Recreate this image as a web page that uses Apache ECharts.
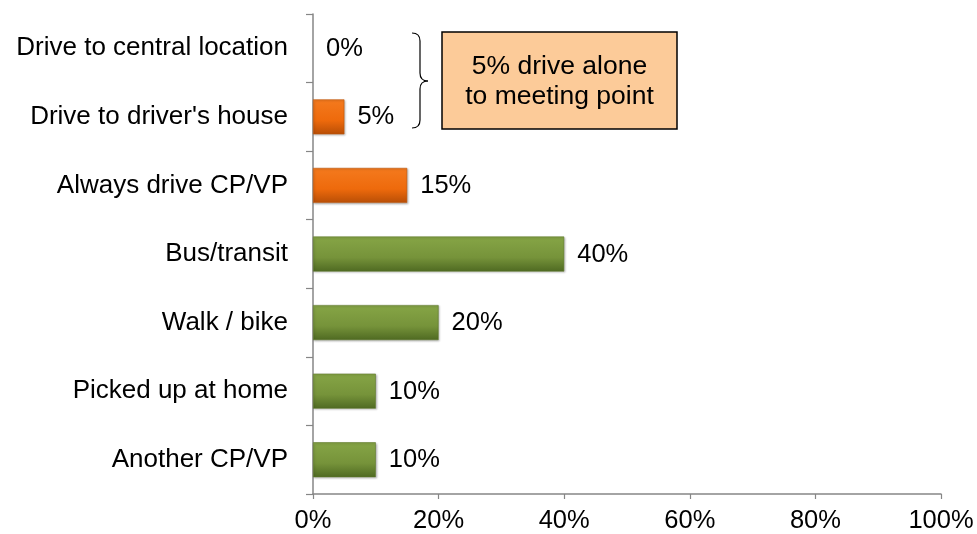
<!DOCTYPE html>
<html>
<head>
<meta charset="utf-8">
<script src="https://cdn.jsdelivr.net/npm/echarts@6/dist/echarts.min.js"></script>
<style>
  html, body { margin: 0; padding: 0; background: #fff; }
  #chart { width: 977px; height: 534px; }
</style>
</head>
<body>
<div id="chart"></div>
<script>
// categories listed bottom to top (category axis on y starts at bottom)
const categories = ['Another CP/VP', 'Picked up at home', 'Walk / bike', 'Bus/transit',
  'Always drive CP/VP', "Drive to driver's house", 'Drive to central location']
const shares = [10, 10, 20, 40, 15, 5, 0]
const isDrive = [false, false, false, false, true, true, true]
const xTicks = [0, 20, 40, 60, 80, 100]
const noteLines = ['5% drive alone', 'to meeting point']

const font = 'Liberation Sans, Arial, sans-serif'

// vertical gradient helper
function vGrad (top, mid, bottom) {
  return {
    type: 'linear', x: 0, y: 0, x2: 0, y2: 1,
    colorStops: [
      { offset: 0, color: top },
      { offset: 0.6, color: mid },
      { offset: 1, color: bottom }
    ]
  }
}
const orange = vGrad('#f47a1e', '#ee6a0c', '#b84e06')
const green = vGrad('#86a546', '#76933a', '#4f6a22')

// curly brace pieces (annotation, not data)
const braceStyle = { fill: 'none', stroke: '#000', lineWidth: 1.2 }
function curve (x1, y1, cx, cy, x2, y2) {
  return { type: 'bezierCurve', shape: { x1, y1, cpx1: cx, cpy1: cy, x2, y2 }, style: braceStyle }
}
function seg (x1, y1, x2, y2) {
  return { type: 'line', shape: { x1, y1, x2, y2 }, style: braceStyle }
}

const chart = echarts.init(document.getElementById('chart'), null, { renderer: 'canvas' })

const option = {
  animation: false,
  backgroundColor: '#fff',
  grid: { left: 313, right: 36, top: 14, bottom: 39, containLabel: false },
  xAxis: {
    type: 'value',
    min: xTicks[0],
    max: xTicks[xTicks.length - 1],
    interval: 20,
    axisLine: { show: true, lineStyle: { color: '#868686', width: 1.5 } },
    axisTick: { show: true, length: 5, lineStyle: { color: '#868686', width: 1.2 } },
    splitLine: { show: false },
    axisLabel: {
      formatter: v => v + '%',
      color: '#000',
      fontFamily: font,
      fontSize: 25.5,
      margin: 14
    }
  },
  yAxis: {
    type: 'category',
    data: categories,
    axisLine: { show: true, lineStyle: { color: '#868686', width: 1.5 } },
    axisTick: { show: true, length: 7, alignWithLabel: false, lineStyle: { color: '#868686', width: 1.2 } },
    axisLabel: {
      color: '#000',
      fontFamily: font,
      fontSize: 26,
      margin: 25
    }
  },
  series: [
    {
      type: 'bar',
      barWidth: '51%',
      z: 3,
      data: shares.map((v, i) => ({
        value: v,
        // a 0% bar draws nothing, so no border/shadow sliver either
        itemStyle: v === 0 ? { color: 'transparent', borderWidth: 0 } : {
          color: isDrive[i] ? orange : green,
          borderColor: isDrive[i] ? '#c0580c' : '#5f7a2c',
          borderWidth: 0.6,
          shadowColor: 'rgba(0,0,0,0.25)',
          shadowBlur: 2,
          shadowOffsetX: 1,
          shadowOffsetY: 1
        }
      })),
      label: {
        show: true,
        position: 'right',
        distance: 13,
        offset: [0, 0.5],
        formatter: p => p.value + '%',
        color: '#000',
        fontFamily: font,
        fontSize: 25.5
      }
    }
  ],
  graphic: [
    curve(412, 33, 420, 33, 420, 41),
    seg(420, 41, 420, 73),
    curve(420, 73, 420, 81, 428, 81),
    curve(428, 81, 420, 81, 420, 89),
    seg(420, 89, 420, 120),
    curve(420, 120, 420, 128, 412, 128),
    {
      type: 'rect',
      shape: { x: 442, y: 32, width: 235, height: 97 },
      style: { fill: '#fccb99', stroke: '#000', lineWidth: 1.5 }
    },
    {
      type: 'text',
      style: {
        x: 559.5,
        y: 82,
        text: noteLines.join('\n'),
        fill: '#000',
        font: '26.5px ' + font,
        align: 'center',
        verticalAlign: 'middle',
        lineHeight: 30
      }
    }
  ]
}

chart.setOption(option)
</script>
</body>
</html>
